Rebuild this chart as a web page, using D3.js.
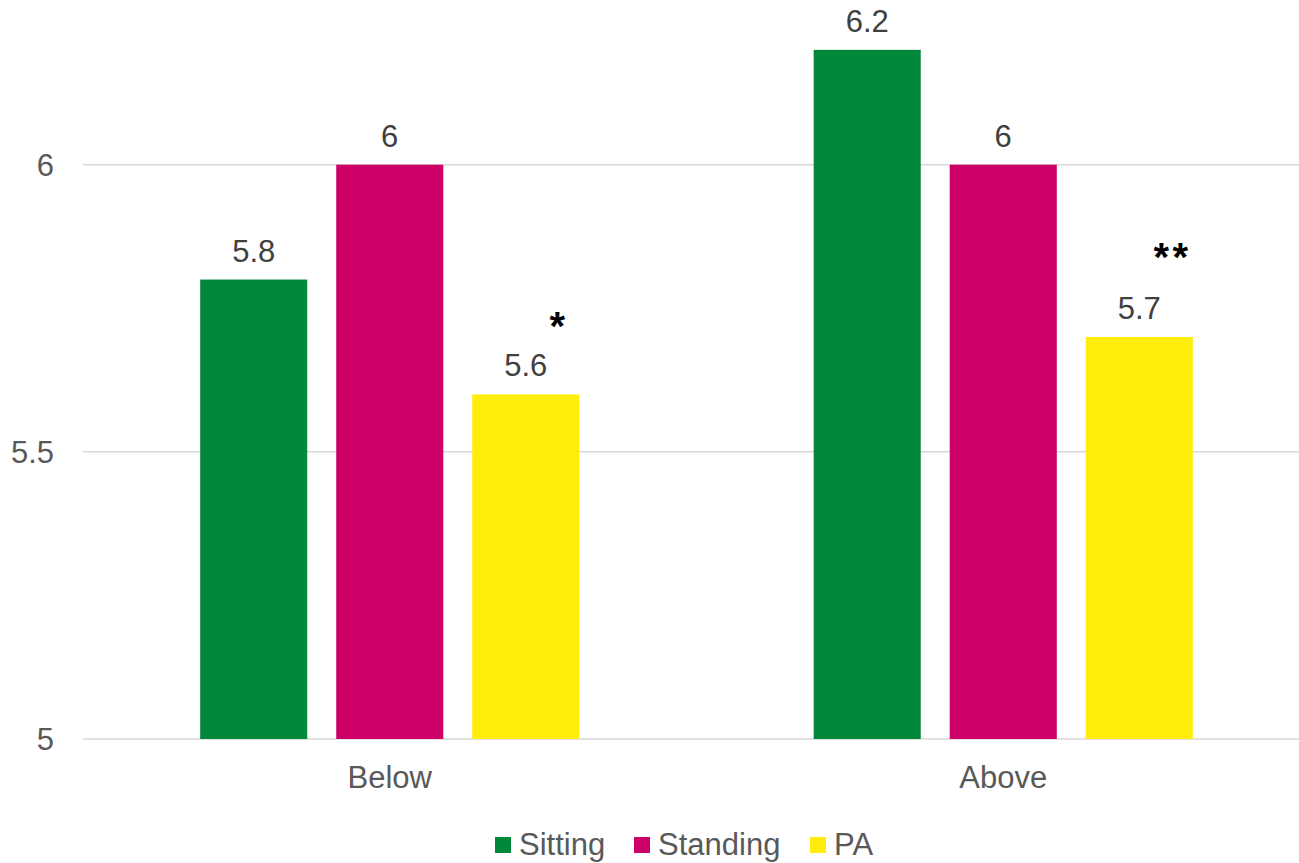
<!DOCTYPE html>
<html>
<head>
<meta charset="utf-8">
<script src="https://cdn.jsdelivr.net/npm/d3@7"></script>
<style>
  html, body { margin: 0; padding: 0; background: #fff; }
  svg { display: block; font-family: "Liberation Sans", Arial, sans-serif; }
</style>
</head>
<body>
<svg id="chart" width="1299" height="863"></svg>
<script>
// Groups, series and values
const categories = ["Below", "Above"];
const seriesNames = ["Sitting", "Standing", "PA"];
const sitting = [5.8, 6.2];
const standing = [6.0, 6.0];
const pa = [5.6, 5.7];
const valueLabels = [["5.8", "6", "5.6"], ["6.2", "6", "5.7"]];
const significance = ["*", "**"];     // marks over the PA bars
const significanceLevel = [5.73, 5.85]; // height of each mark, in axis units
const yTicks = [5, 5.5, 6];
const colors = ["#00873A", "#CC0066", "#FFED0B"];

const seriesValues = [sitting, standing, pa];

const svg = d3.select("#chart");

const x0 = d3.scaleBand()
  .domain(categories)
  .range([83, 1310])
  .paddingInner(0.382)
  .paddingOuter(0.191);

const x1 = d3.scaleBand()
  .domain(seriesNames)
  .range([0, x0.bandwidth()])
  .paddingInner(0.213)
  .paddingOuter(0);

const y = d3.scaleLinear()
  .domain([5, 6])
  .range([739, 164.7]);

// Gridlines
svg.append("g")
  .selectAll("line")
  .data(yTicks)
  .join("line")
  .attr("x1", 83)
  .attr("x2", 1299)
  .attr("y1", d => y(d))
  .attr("y2", d => y(d))
  .attr("stroke", "#d9d9d9")
  .attr("stroke-width", 1.5);

// Y axis labels
const yAxis = d3.axisLeft(y).tickValues(yTicks).tickFormat(d3.format("~g")).tickSize(0).tickPadding(0);
const yg = svg.append("g").attr("transform", "translate(54,0)").call(yAxis);
yg.select(".domain").remove();
yg.selectAll("text")
  .attr("fill", "#595959")
  .attr("font-size", 31)
  .attr("font-family", "Liberation Sans, Arial, sans-serif")
  .attr("dy", "0.35em");

// X axis labels
const xAxis = d3.axisBottom(x0).tickSize(0).tickPadding(0);
const xg = svg.append("g").attr("transform", "translate(0,788)").call(xAxis);
xg.select(".domain").remove();
xg.selectAll("text")
  .attr("fill", "#595959")
  .attr("font-size", 31)
  .attr("font-family", "Liberation Sans, Arial, sans-serif")
  .attr("dy", 0);

// Bars
const rows = categories.map((c, i) => ({
  category: c,
  items: seriesNames.map((s, j) => ({ series: s, value: seriesValues[j][i], label: valueLabels[i][j], color: colors[j] }))
}));

const groups = svg.append("g")
  .selectAll("g")
  .data(rows)
  .join("g")
  .attr("transform", d => `translate(${x0(d.category)},0)`);

groups.selectAll("rect")
  .data(d => d.items)
  .join("rect")
  .attr("x", d => x1(d.series))
  .attr("y", d => y(d.value))
  .attr("width", x1.bandwidth())
  .attr("height", d => y(5) - y(d.value))
  .attr("fill", d => d.color);

groups.selectAll("text.val")
  .data(d => d.items)
  .join("text")
  .attr("class", "val")
  .attr("x", d => x1(d.series) + x1.bandwidth() / 2)
  .attr("y", d => y(d.value) - 18)
  .attr("text-anchor", "middle")
  .attr("fill", "#404040")
  .attr("font-size", 31)
  .text(d => d.label);

// Significance marks, above the right side of each PA bar
groups.append("text")
  .attr("x", x1("PA") + x1.bandwidth() * 0.81)
  .attr("y", (d, i) => y(significanceLevel[i]))
  .attr("dy", "0.5em")
  .attr("text-anchor", "middle")
  .attr("fill", "#000")
  .attr("font-size", 40)
  .attr("font-weight", "bold")
  .attr("letter-spacing", 3.5)
  .text((d, i) => significance[i]);

// Legend
const legendItems = [
  { name: seriesNames[0], color: colors[0], x: 495 },
  { name: seriesNames[1], color: colors[1], x: 634 },
  { name: seriesNames[2], color: colors[2], x: 810 }
];
const legend = svg.append("g");
legend.selectAll("rect")
  .data(legendItems)
  .join("rect")
  .attr("x", d => d.x)
  .attr("y", 837)
  .attr("width", 16)
  .attr("height", 16)
  .attr("fill", d => d.color);
legend.selectAll("text")
  .data(legendItems)
  .join("text")
  .attr("x", d => d.x + 24)
  .attr("y", 855)
  .attr("fill", "#595959")
  .attr("font-size", 31)
  .text(d => d.name);
</script>
</body>
</html>
